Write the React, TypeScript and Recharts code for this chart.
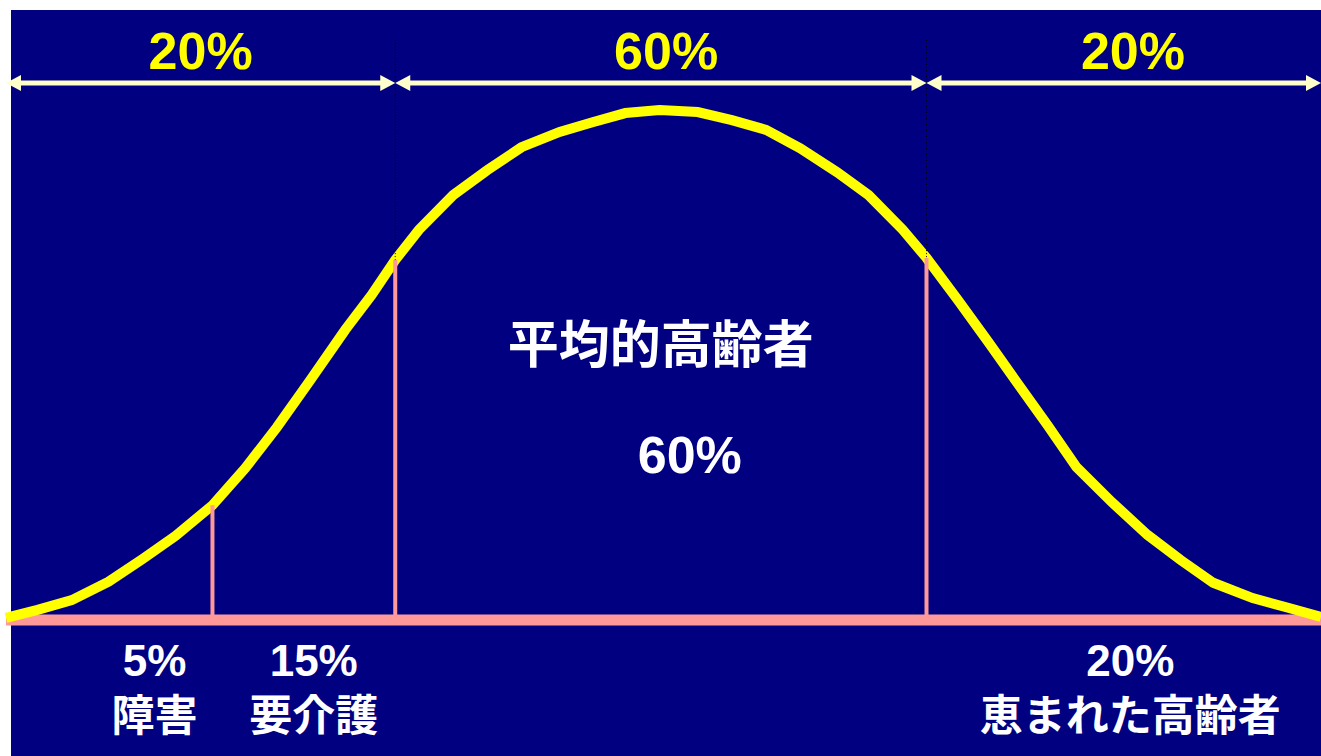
import { ComposedChart, Line, XAxis, YAxis, ReferenceLine, ReferenceDot } from "recharts";

// bell curve, x on a 0-100 ability scale, y relative height (peak = 100)
const curveX = [
  0, 2.4, 5.0, 7.8, 10.4, 12.9, 15.7, 18.2, 20.6, 23.1, 25.8, 27.8, 29.6, 31.4, 34.0, 36.6, 39.2, 42.1, 44.6, 47.1,
  49.7, 52.6, 55.2, 57.8, 60.4, 63.2, 65.6, 68.2, 70.0, 72.4, 74.7, 76.9, 79.2, 81.4, 84.1, 86.8, 89.3, 91.8, 94.8,
  97.5, 100,
];
const curveY = [
  0.4, 2.0, 3.9, 7.5, 12.0, 16.5, 22.5, 29.8, 37.8, 46.9, 56.9, 63.7, 70.6, 76.5, 83.3, 88.2, 92.7, 95.7, 97.6, 99.4,
  100, 99.6, 98.0, 96.1, 92.5, 87.8, 83.3, 76.5, 71.0, 62.7, 54.5, 46.5, 38.2, 30.0, 23.1, 16.7, 11.8, 7.3, 4.3,
  2.4, 0.6,
];

// top bands: 20% / 60% / 20%
const bandEdges = [0, 29.6, 70.0, 100];
const bandShares = [20, 60, 20];

// pink cut lines under the curve
const cutX = [15.7, 29.6, 70.0];

// groups
const groupNames = ["障害", "要介護", "平均的高齢者", "恵まれた高齢者"];
const groupShares = [5, 15, 60, 20];

const curveData = curveX.map((x, i) => ({ x, y: curveY[i] }));
const heightAt = (x: number) => curveY[curveX.indexOf(x)];

const NAVY = "#000080";
const YELLOW = "#FFFF00";
const PINK = "#FF9999";
const CREAM = "#FFFFCC";
const FONT = "'Liberation Sans', Arial, 'Noto Sans CJK JP', sans-serif";

const ARROW_Y = 105.3;
const DIVIDER_TOP = 113.7;

// placement of the text annotations (data coordinates)
const bandLabelPos = [
  { x: 14.8, y: 108 },
  { x: 50.2, y: 108 },
  { x: 85.7, y: 108 },
];
const groupLabelPos = [
  { x: 11.3, share: -11, name: -18.8 },
  { x: 23.4, share: -11, name: -18.8 },
  { x: 85.5, share: -11, name: -18.8 },
];

const DoubleArrow = (p: any) => {
  const { x1, y1, x2 } = p;
  const h = 15;
  const w = 8;
  return (
    <g>
      <line x1={x1 + h - 1} y1={y1} x2={x2 - h + 1} y2={y1} stroke={CREAM} strokeWidth={5} />
      <polygon points={`${x1},${y1} ${x1 + h},${y1 - w} ${x1 + h},${y1 + w}`} fill={CREAM} />
      <polygon points={`${x2},${y1} ${x2 - h},${y1 - w} ${x2 - h},${y1 + w}`} fill={CREAM} />
    </g>
  );
};

const textAt =
  (text: string, color: string, size: number, baseline: "auto" | "central" = "auto") =>
  (p: any) =>
    (
      <text
        x={p.cx}
        y={p.cy}
        textAnchor="middle"
        dominantBaseline={baseline}
        fill={color}
        fontSize={size}
        fontWeight="bold"
        fontFamily={FONT}
      >
        {text}
      </text>
    );

export default function App() {
  return (
    <div style={{ position: "absolute", left: 0, top: 0, width: 1321, height: 756, background: "#fff" }}>
      <div style={{ position: "absolute", left: 11, top: 10, width: 1310, height: 746, background: NAVY }} />
      <div style={{ position: "absolute", left: 0, top: 0 }}>
        <ComposedChart
          width={1321}
          height={756}
          data={curveData}
          margin={{ top: 8, right: 0, bottom: 3.4, left: 6 }}
        >
          <XAxis dataKey="x" type="number" domain={[0, 100]} hide />
          <YAxis type="number" domain={[-26, 120]} hide allowDataOverflow />

          <ReferenceLine y={0} stroke={PINK} strokeWidth={11} />

          <Line
            dataKey="y"
            type="linear"
            stroke={YELLOW}
            strokeWidth={10}
            dot={false}
            activeDot={false}
            isAnimationActive={false}
          />

          {cutX.map((x) => (
            <ReferenceLine
              key={`cut-${x}`}
              segment={[
                { x, y: 0 },
                { x, y: heightAt(x) },
              ]}
              stroke={PINK}
              strokeWidth={4}
            />
          ))}

          {bandEdges.slice(1, 3).map((x) => (
            <ReferenceLine
              key={`div-${x}`}
              segment={[
                { x, y: DIVIDER_TOP },
                { x, y: heightAt(x) },
              ]}
              stroke="#000"
              strokeWidth={1}
              strokeDasharray="1 2"
            />
          ))}

          {bandShares.map((_, i) => (
            <ReferenceLine
              key={`arrow-${i}`}
              segment={[
                { x: bandEdges[i], y: ARROW_Y },
                { x: bandEdges[i + 1], y: ARROW_Y },
              ]}
              shape={DoubleArrow}
              ifOverflow="visible"
            />
          ))}

          {bandShares.map((s, i) => (
            <ReferenceDot
              key={`band-${i}`}
              x={bandLabelPos[i].x}
              y={bandLabelPos[i].y}
              r={0}
              shape={textAt(`${s}%`, YELLOW, 52)}
            />
          ))}

          <ReferenceDot x={49.8} y={53.9} r={0} shape={textAt(groupNames[2], "#fff", 51, "central")} />
          <ReferenceDot x={52.0} y={28.8} r={0} shape={textAt(`${groupShares[2]}%`, "#fff", 52)} />

          {[0, 1, 3].map((g, i) => (
            <ReferenceDot
              key={`gs-${g}`}
              x={groupLabelPos[i].x}
              y={groupLabelPos[i].share}
              r={0}
              shape={textAt(`${groupShares[g]}%`, "#fff", 44)}
            />
          ))}
          {[0, 1, 3].map((g, i) => (
            <ReferenceDot
              key={`gn-${g}`}
              x={groupLabelPos[i].x}
              y={groupLabelPos[i].name}
              r={0}
              shape={textAt(groupNames[g], "#fff", 43, "central")}
            />
          ))}
        </ComposedChart>
      </div>
    </div>
  );
}
